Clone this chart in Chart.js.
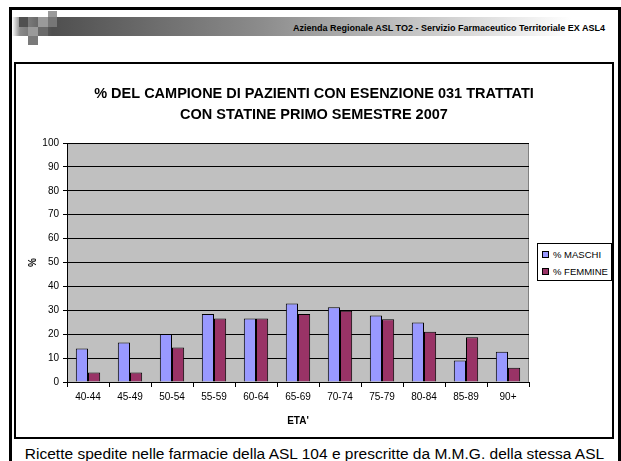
<!DOCTYPE html>
<html lang="it">
<head>
<meta charset="UTF-8">
<title>Statine 2007</title>
<style>
  body {
    margin: 0;
    width: 621px;
    height: 461px;
    overflow: hidden;
    background: #fff;
    font-family: "Liberation Sans", Arial, sans-serif;
    position: relative;
  }
  .frame {
    position: absolute;
    left: 9px; top: 7px;
    width: 606px; height: 470px;
    border: 3px solid #000;
  }
  .band {
    position: absolute;
    left: 12px; top: 17px;
    width: 600px; height: 19px;
    background: linear-gradient(to right, #fff 0px, #8a8a8a 8px, #4f4f4f 40px, #8c8c8c 250px, #fff 560px);
  }
  .sq { position: absolute; }
  .header {
    position: absolute;
    right: 16px; top: 23px;
    font-size: 9px;
    font-weight: bold;
    color: #000;
  }
  .box {
    position: absolute;
    left: 14px; top: 62px;
    width: 596px; height: 373px;
    border: 2px solid #000;
  }
  .chart { position: absolute; left: 0; top: 0; width: 596px; height: 373px; }
  .legend {
    position: absolute;
    left: 521px; top: 179px;
    width: 73px; height: 36px;
    border: 1px solid #000;
    background: #fff;
    font-size: 9.5px;
  }
  .legend div { position: absolute; left: 4px; white-space: nowrap; }
  .legend span {
    display: inline-block;
    width: 5px; height: 5px;
    border: 1px solid #000;
    margin-right: 4px;
    vertical-align: 0px;
  }
  .caption {
    position: absolute;
    left: 4px; width: 621px; top: 445px;
    text-align: center;
    font-size: 15.5px;
    color: #000;
  }
</style>
</head>
<body>

<div class="frame"></div>
<div class="band"></div>
<div class="sq" style="left:19px;top:17px;width:9px;height:10px;background:#505050"></div>
<div class="sq" style="left:28px;top:27px;width:10px;height:9px;background:#9a9a9a"></div>
<div class="sq" style="left:28px;top:36px;width:10px;height:9px;background:#7a7a7a"></div>
<div class="sq" style="left:38px;top:17px;width:10px;height:10px;background:#9a9a9a"></div>
<div class="sq" style="left:38px;top:27px;width:10px;height:9px;background:#6a6a6a"></div>
<div class="sq" style="left:48px;top:11px;width:9px;height:6px;background:#9a9a9a"></div>
<div class="sq" style="left:48px;top:17px;width:9px;height:10px;background:#777"></div>
<div class="header">Azienda Regionale ASL TO2 - Servizio Farmaceutico Territoriale EX ASL4</div>

<div class="box">
  <div class="chart"><canvas id="grafico"></canvas></div>
  <div class="legend">
    <div style="top:5px"><span style="background:#9999FF"></span>% MASCHI</div>
    <div style="top:22px"><span style="background:#993366"></span>% FEMMINE</div>
  </div>
</div>

<div class="caption">Ricette spedite nelle farmacie della ASL 104 e prescritte da M.M.G. della stessa ASL</div>

<script src="https://cdn.jsdelivr.net/npm/chart.js"></script>
<script>
  const fasce = ['40-44', '45-49', '50-54', '55-59', '60-64', '65-69', '70-74', '75-79', '80-84', '85-89', '90+'];
  const maschi = [14.0, 16.5, 20.1, 28.5, 26.6, 32.9, 31.3, 27.8, 24.9, 9.0, 12.7];
  const femmine = [4.0, 4.0, 14.4, 26.6, 26.6, 28.5, 29.8, 26.3, 21.0, 18.7, 6.0];
  const titolo = ['% DEL CAMPIONE DI PAZIENTI CON ESENZIONE 031 TRATTATI', 'CON STATINE PRIMO SEMESTRE 2007'];

  // sfondo grigio dell'area del grafico
  const sfondo = {
    id: 'sfondo',
    beforeDraw(chart) {
      const {ctx, chartArea: a} = chart;
      ctx.save();
      ctx.fillStyle = '#C0C0C0';
      ctx.fillRect(a.left, a.top, a.right - a.left, a.bottom - a.top);
      ctx.strokeStyle = '#808080';
      ctx.lineWidth = 1;
      ctx.strokeRect(a.left + 0.5, a.top + 0.5, a.right - a.left - 1, a.bottom - a.top);
      ctx.restore();
    }
  };

  Chart.defaults.font.family = '"Liberation Sans", Arial, sans-serif';
  Chart.defaults.color = '#000';

  new Chart(document.getElementById('grafico'), {
    type: 'bar',
    data: {
      labels: fasce,
      datasets: [{
        label: '% MASCHI',
        data: maschi,
        backgroundColor: '#9999FF',
        borderColor: '#000',
        borderWidth: 1,
        borderSkipped: 'bottom'
      }, {
        label: '% FEMMINE',
        data: femmine,
        backgroundColor: '#993366',
        borderColor: '#000',
        borderWidth: 1,
        borderSkipped: 'bottom'
      }]
    },
    options: {
      responsive: true,
      maintainAspectRatio: false,
      animation: false,
      categoryPercentage: 0.58,
      barPercentage: 1,
      layout: { padding: 0 },
      plugins: {
        legend: { display: false },
        tooltip: { enabled: false },
        title: {
          display: true,
          text: titolo,
          font: { size: 14.5, weight: 'bold', lineHeight: 1.45 },
          padding: { top: 19.5, bottom: 17.5 }
        }
      },
      scales: {
        x: {
          grid: { drawOnChartArea: false, color: '#000', tickLength: 5 },
          border: { color: '#000' },
          ticks: { font: { size: 10 }, padding: 4, maxRotation: 0 },
          title: { display: true, text: "ETA'", font: { size: 10, weight: 'bold' }, padding: { top: 0, bottom: 10 } },
          afterFit(s) { s.height = 55; }
        },
        y: {
          min: 0,
          max: 100,
          ticks: { stepSize: 10, font: { size: 10 }, padding: 4 },
          grid: { color: '#000', tickLength: 4 },
          border: { color: '#000' },
          title: { display: true, text: '%', font: { size: 10, weight: 'bold' }, padding: { top: 11, bottom: 0 } },
          afterFit(s) { s.width = 51; }
        },
        spazio: {
          position: 'right',
          ticks: { display: false },
          grid: { display: false },
          border: { display: false },
          afterFit(s) { s.width = 83; }
        }
      }
    },
    plugins: [sfondo]
  });
</script>
</body>
</html>
